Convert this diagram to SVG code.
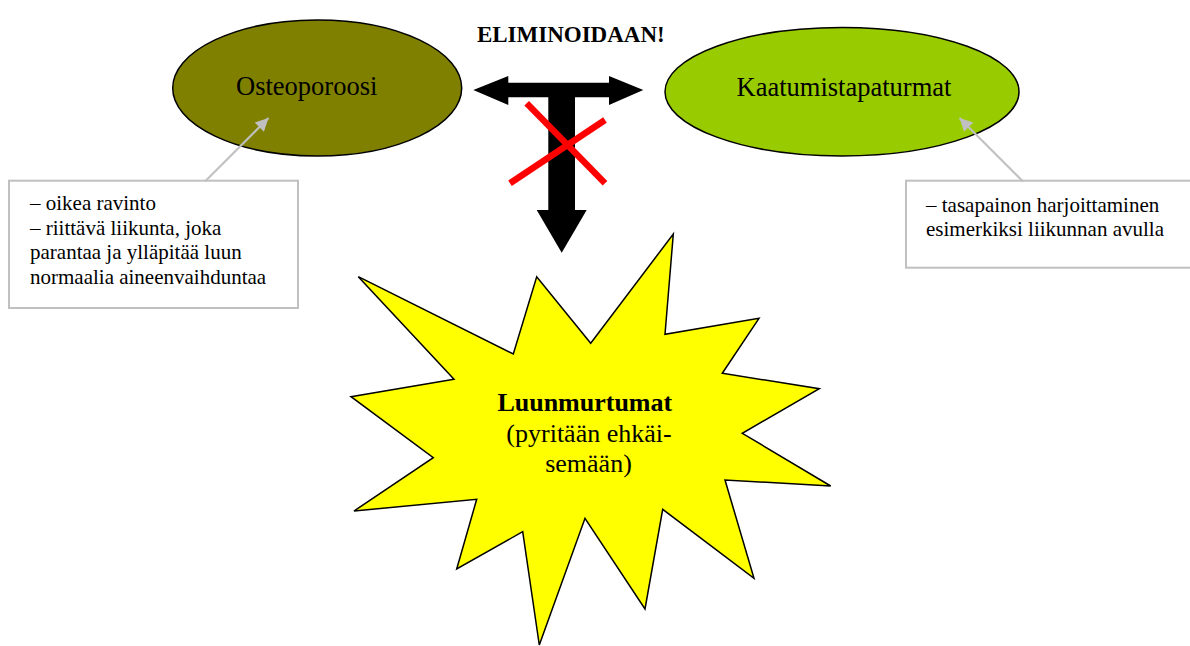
<svg xmlns="http://www.w3.org/2000/svg" width="1190" height="646" viewBox="0 0 1190 646">
<style>
  .serif { font-family: "Liberation Serif", "Times New Roman", serif; fill: #000; }
  .node-label { font-size: 26.5px; }
  .note-box { fill: #fff; stroke: #c0c0c0; stroke-width: 2; }
  .note-text { font-size: 21px; }
  .note-link { stroke: #c0c0c0; stroke-width: 2; fill: none; marker-end: url(#grayhead); }
  .outline { stroke: #000; stroke-width: 1.5; }
</style>
<defs>
  <marker id="grayhead" viewBox="0 0 10 10" refX="10" refY="5" markerWidth="16" markerHeight="13" markerUnits="userSpaceOnUse" orient="auto">
    <path d="M0,0 L10,5 L0,10 z" fill="#c0c0c0"/>
  </marker>
</defs>
<rect width="1190" height="646" fill="#fff"/>

<g id="osteoporoosi">
  <ellipse class="outline" cx="317.2" cy="88" rx="144.5" ry="68" fill="#808000"/>
  <text class="serif node-label" x="306.7" y="95" text-anchor="middle">Osteoporoosi</text>
</g>

<g id="kaatumistapaturmat">
  <ellipse class="outline" cx="842" cy="91.7" rx="177" ry="64.3" fill="#99cc00"/>
  <text class="serif node-label" x="844" y="96" text-anchor="middle">Kaatumistapaturmat</text>
</g>

<g id="eliminoidaan">
  <text class="serif" x="570.8" y="41.7" text-anchor="middle" font-size="23px" font-weight="bold">ELIMINOIDAAN!</text>
  <polygon fill="#000" points="473.3,90 508.3,76 508.3,82.7 609,82.7 609,76 643.3,90 609,105 609,97.3 575,97.3 575,210 586.7,210 561.7,252.7 536.7,210 548.3,210 548.3,97.3 508.3,97.3 508.3,105"/>
  <line x1="526.7" y1="103.3" x2="605" y2="183.3" stroke="#ff0000" stroke-width="6.5"/>
  <line x1="605" y1="120" x2="510" y2="183.3" stroke="#ff0000" stroke-width="6.5"/>
</g>

<g id="note-osteoporoosi">
  <rect class="note-box" x="9" y="180.7" width="289" height="127.3"/>
  <text class="serif note-text" x="30" y="210">– oikea ravinto</text>
  <text class="serif note-text" x="30" y="234.5">– riittävä liikunta, joka</text>
  <text class="serif note-text" x="30" y="259">parantaa ja ylläpitää luun</text>
  <text class="serif note-text" x="30" y="283.5">normaalia aineenvaihduntaa</text>
</g>

<g id="note-kaatumistapaturmat">
  <rect class="note-box" x="906" y="180.7" width="295" height="87"/>
  <text class="serif note-text" x="926" y="211.7">– tasapainon harjoittaminen</text>
  <text class="serif note-text" x="926" y="236">esimerkiksi liikunnan avulla</text>
</g>

<g id="luunmurtumat">
  <polygon class="outline" fill="#ffff00" stroke-linejoin="miter" points="358.3,276.7 513.3,354 536.7,276.7 590.7,343.3 673.3,234 665,334.3 759,318.3 722.3,373.3 819.3,388.7 742.3,433.3 830.7,486 725,480 754,578.3 662.7,509.3 645,609 585,518.3 539.3,645 522.7,531.7 456.7,569 476.7,499.3 354,511 433.3,457.7 351,396.7 454,379.3"/>
  <text class="serif" x="584.8" y="411" text-anchor="middle" font-size="26px" font-weight="bold">Luunmurtumat</text>
  <text class="serif" x="589" y="441.7" text-anchor="middle" font-size="26px">(pyritään ehkäi-</text>
  <text class="serif" x="588.5" y="472" text-anchor="middle" font-size="26px">semään)</text>
</g>

<g id="connectors">
  <line class="note-link" x1="205" y1="181.5" x2="268.5" y2="118"/>
  <line class="note-link" x1="1023" y1="181.5" x2="959.5" y2="118"/>
</g>
</svg>
